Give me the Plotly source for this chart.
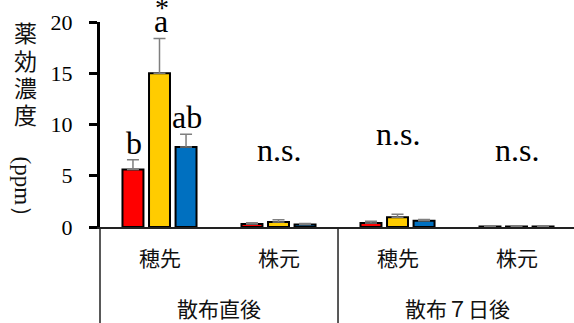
import plotly.graph_objects as go

# --- data -------------------------------------------------------------
parts = ["穂先", "株元", "穂先", "株元"]
timings = ["散布直後", "散布７日後"]
treatments = ["区1", "区2", "区3"]
colors = ["#FF0000", "#FFCC00", "#0070C0"]

conc_1 = [5.6, 0.3, 0.4, 0.05]
conc_2 = [15.0, 0.5, 0.95, 0.05]
conc_3 = [7.8, 0.25, 0.6, 0.05]
sd_1 = [0.95, 0.12, 0.15, 0.02]
sd_2 = [3.4, 0.2, 0.3, 0.02]
sd_3 = [1.25, 0.1, 0.12, 0.02]

letters_1 = ["b", "", "", ""]
letters_2 = ["a", "", "", ""]
letters_3 = ["ab", "", "", ""]
star_2 = ["*", "", "", ""]
ns_labels = ["", "n.s.", "n.s.", "n.s."]
ns_height = [0, 5.55, 7.1, 5.55]

yticks = [0, 5, 10, 15, 20]

values = [conc_1, conc_2, conc_3]
errors = [sd_1, sd_2, sd_3]
letters = [letters_1, letters_2, letters_3]

# --- geometry ---------------------------------------------------------
W, H = 574, 323
L, T, B = 100, 22, 96
plot_h = H - T - B
x_range = [-0.5, 3.483]
bargap = 0.331
slot = (1 - bargap) / 3
serif = "Liberation Serif"
sans = "Noto Sans CJK JP"


def py(pix):
    """Convert a page y pixel to paper coordinates."""
    return (H - B - pix) / plot_h


def px(pix):
    """Convert a page x pixel to paper coordinates."""
    return (pix - L) / (W - L)


xs = list(range(len(parts)))

fig = go.Figure()
for name, col, v, e in zip(treatments, colors, values, errors):
    fig.add_trace(go.Bar(
        x=xs, y=v, name=name, showlegend=False,
        marker=dict(color=col, line=dict(color="black", width=2)),
        error_y=dict(type="data", array=e, arrayminus=[0] * len(e),
                     symmetric=False, color="#7f7f7f", thickness=1.5, width=6),
    ))

ann = []
# significance letters above bars
for k, (labs, v, e) in enumerate(zip(letters, values, errors)):
    off = (k - 1) * slot
    for i, t in enumerate(labs):
        if t:
            ann.append(dict(x=xs[i] + off, y=v[i] + e[i], xref="x", yref="y",
                            text=t, showarrow=False, yanchor="bottom", xshift=1,
                            yshift=-3, font=dict(family=serif, size=32, color="black")))
for i, t in enumerate(star_2):
    if t:
        ann.append(dict(x=xs[i], y=conc_2[i] + sd_2[i], xref="x", yref="y",
                        text=t, showarrow=False, yanchor="bottom", yshift=13,
                        xshift=2, font=dict(family=serif, size=28, color="black")))
for i, t in enumerate(ns_labels):
    if t:
        ann.append(dict(x=xs[i], y=ns_height[i], xref="x", yref="y", text=t,
                        showarrow=False, yanchor="bottom",
                        font=dict(family=serif, size=32, color="black")))

# two-level category labels
for i, t in enumerate(parts):
    ann.append(dict(x=xs[i], y=py(257), xref="x", yref="paper", text=t,
                    showarrow=False, yanchor="middle",
                    font=dict(family=sans, size=21, color="#111")))
for g, t in enumerate(timings):
    ann.append(dict(x=2 * g + 0.5, y=py(308), xref="x", yref="paper", text=t,
                    showarrow=False, yanchor="middle",
                    font=dict(family=sans, size=21, color="#111")))

# vertical axis title
for j, ch in enumerate("薬効濃度"):
    ann.append(dict(x=px(25.5), y=py(32 + 27.5 * j), xref="paper", yref="paper",
                    text=ch, showarrow=False, xanchor="center", yanchor="middle",
                    font=dict(family=sans, size=23, color="#111")))
ann.append(dict(x=px(22.5), y=py(192), xref="paper", yref="paper", text="(ppm）",
                showarrow=False, textangle=90, xanchor="center", yanchor="middle",
                font=dict(family=serif, size=23, color="#111")))

# group separators under the axis
span = x_range[1] - x_range[0]
shapes = []
for xv in [-0.5, 1.5]:
    xp = (xv - x_range[0]) / span
    shapes.append(dict(type="line", xref="paper", yref="paper",
                       x0=xp, x1=xp, y0=0, y1=py(H + 2),
                       line=dict(color="#222", width=1.5)))

fig.update_layout(
    width=W, height=H,
    margin=dict(l=L, r=0, t=T, b=B),
    paper_bgcolor="white", plot_bgcolor="white",
    barmode="group", bargap=bargap, bargroupgap=0.21,
    annotations=ann, shapes=shapes,
    xaxis=dict(range=x_range, showticklabels=False, ticks="", showgrid=False,
               zeroline=False, showline=True, linecolor="#222", linewidth=1.5),
    yaxis=dict(range=[0, 20], tickvals=yticks, ticks="outside", ticklen=8,
               tickwidth=2.5, tickcolor="black", showline=True, linewidth=3,
               linecolor="black", showgrid=False, zeroline=False,
               ticklabelstandoff=12,
               tickfont=dict(family=serif, size=22, color="black")),
)

fig.write_html("out.html")
